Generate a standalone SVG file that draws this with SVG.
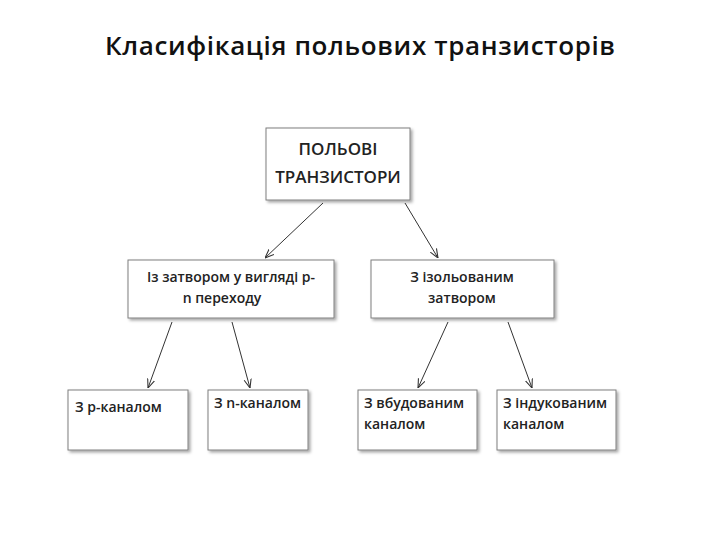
<svg xmlns="http://www.w3.org/2000/svg" width="720" height="540" viewBox="0 0 720 540">
<defs>
<marker id="ah" viewBox="0 0 10 10" refX="10" refY="5" markerWidth="9" markerHeight="9" orient="auto"><path d="M0,1 L10,5 L0,9" fill="none" stroke="#333" stroke-width="1.2"/></marker>
<filter id="sh" x="-10%" y="-10%" width="130%" height="130%"><feDropShadow dx="2" dy="2" stdDeviation="1.5" flood-color="#000" flood-opacity="0.35"/></filter>
</defs>
<style>
.b{fill:#fff;stroke:#7f7f7f;stroke-width:1;filter:url(#sh)}
.t{font-family:"Open Sans","Liberation Sans",sans-serif;font-weight:600;font-size:14px;fill:#222}
.t.big{font-size:17px}
.c{stroke:#333;stroke-width:1;fill:none;marker-end:url(#ah)}
</style>
<rect width="720" height="540" fill="#fff"/>
<text x="360" y="55" text-anchor="middle" font-family="'Open Sans','Liberation Sans',sans-serif" font-size="26" font-weight="600" fill="#111" textLength="510">Класифікація польових транзисторів</text>
<g id="top"><rect class="b" x="266" y="128" width="144" height="72"/>
<text class="t big" x="338" y="155" text-anchor="middle">ПОЛЬОВІ</text>
<text class="t big" x="338" y="183" text-anchor="middle">ТРАНЗИСТОРИ</text></g>
<g id="pn"><rect class="b" x="128" y="260" width="206" height="58"/>
<text class="t" x="231" y="282" text-anchor="middle">Із затвором у вигляді р-</text>
<text class="t" x="222" y="303" text-anchor="middle">n переходу</text></g>
<g id="iz"><rect class="b" x="371" y="260" width="183" height="58"/>
<text class="t" x="462" y="282" text-anchor="middle">З ізольованим</text>
<text class="t" x="462" y="303" text-anchor="middle">затвором</text></g>
<g id="p"><rect class="b" x="68" y="390" width="120" height="60"/>
<text class="t" x="75" y="412">З р-каналом</text></g>
<g id="n"><rect class="b" x="208" y="390" width="100" height="60"/>
<text class="t" x="214" y="408">З n-каналом</text></g>
<g id="vb"><rect class="b" x="358" y="390" width="119" height="60"/>
<text class="t" x="364" y="408">З вбудованим</text>
<text class="t" x="364" y="429">каналом</text></g>
<g id="in"><rect class="b" x="497" y="390" width="119" height="60"/>
<text class="t" x="503" y="408">З індукованим</text>
<text class="t" x="503" y="429">каналом</text></g>
<g id="connectors">
<line class="c" x1="323" y1="203" x2="265" y2="258"/>
<line class="c" x1="405" y1="203" x2="438" y2="258"/>
<line class="c" x1="172" y1="322" x2="148" y2="388"/>
<line class="c" x1="232" y1="322" x2="250" y2="388"/>
<line class="c" x1="448" y1="322" x2="418" y2="388"/>
<line class="c" x1="508" y1="322" x2="532" y2="388"/>
</g>
</svg>
